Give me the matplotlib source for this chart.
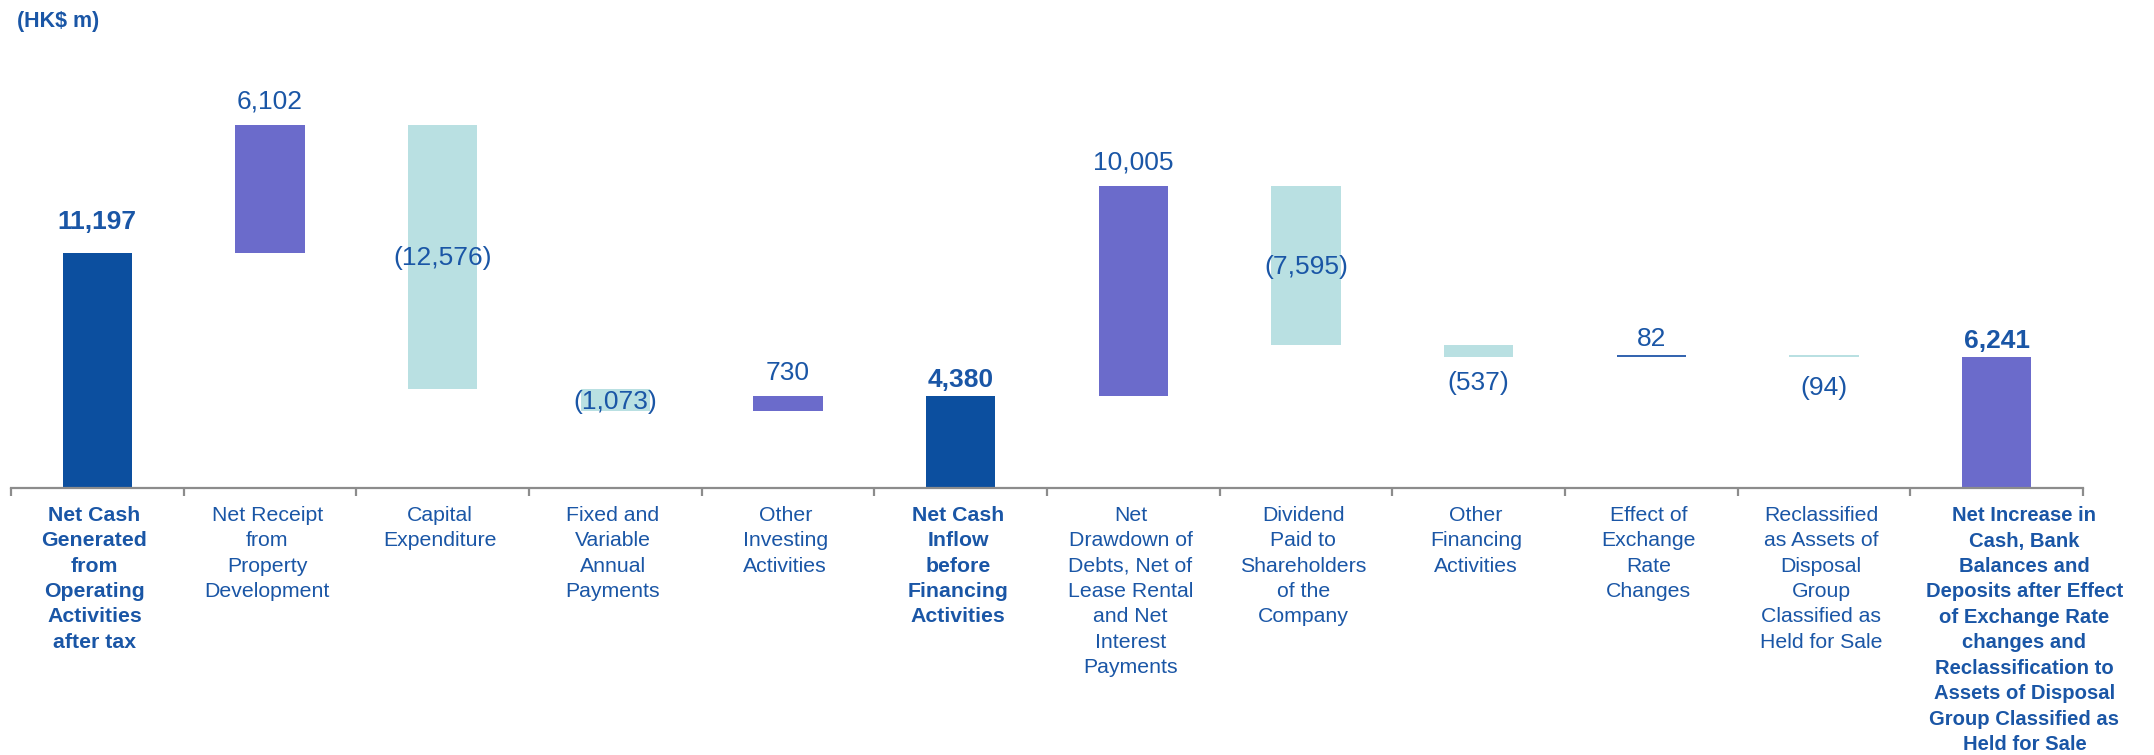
import matplotlib
matplotlib.use("Agg")
import matplotlib.pyplot as plt

plt.rcParams['font.family'] = ['Liberation Sans', 'DejaVu Sans']

categories = [
    "Net Cash\nGenerated\nfrom\nOperating\nActivities\nafter tax",
    "Net Receipt\nfrom\nProperty\nDevelopment",
    "Capital\nExpenditure",
    "Fixed and\nVariable\nAnnual\nPayments",
    "Other\nInvesting\nActivities",
    "Net Cash\nInflow\nbefore\nFinancing\nActivities",
    "Net\nDrawdown of\nDebts, Net of\nLease Rental\nand Net\nInterest\nPayments",
    "Dividend\nPaid to\nShareholders\nof the\nCompany",
    "Other\nFinancing\nActivities",
    "Effect of\nExchange\nRate\nChanges",
    "Reclassified\nas Assets of\nDisposal\nGroup\nClassified as\nHeld for Sale",
    "Net Increase in\nCash, Bank\nBalances and\nDeposits after Effect\nof Exchange Rate\nchanges and\nReclassification to\nAssets of Disposal\nGroup Classified as\nHeld for Sale",
]
values = [11197, 6102, -12576, -1073, 730, 4380, 10005, -7595, -537, 82, -94, 6241]
is_total = [True, False, False, False, False, True, False, False, False, False, False, True]
unit_label = "(HK$ m)"

# styles
DARK = '#0C4F9F'
PURPLE = '#6B6BCB'
TEAL = '#B9E0E2'
MIDBLUE = '#3565B0'
TXT = '#1A56A6'
GRAY = '#8C8C8C'
bar_colors = [DARK, PURPLE, TEAL, TEAL, PURPLE, DARK, PURPLE, TEAL, TEAL, MIDBLUE, TEAL, PURPLE]
label_place = ['above_far', 'above', 'center', 'center', 'above', 'tight', 'above', 'center',
               'below', 'tight', 'below_far', 'tight']
above_offsets = {'above': 8, 'above_far': 14, 'tight': 3}

W, H = 2154, 755
fig = plt.figure(figsize=(W / 100, H / 100), dpi=100)
px_per_unit = 235 / 11197
ax = fig.add_axes([11 / W, (H - 488) / H, 2072 / W, 468 / H])
ax.set_xlim(-0.5, len(values) - 0.5)
ax.set_ylim(0, 468 / px_per_unit)

VFS = 19
running = 0
for i, v in enumerate(values):
    if is_total[i]:
        bottom, height = 0, v
        running = v
    else:
        start = running
        end = running + v
        bottom, height = min(start, end), abs(v)
        running = end
    ax.bar(i, height, bottom=bottom, width=0.4, color=bar_colors[i], linewidth=0)
    txt = f"{v:,}" if v >= 0 else f"({-v:,})"
    weight = 'bold' if is_total[i] else 'normal'
    place = label_place[i]
    if place in above_offsets:
        ax.annotate(txt, xy=(i, bottom + height), xytext=(0, above_offsets[place]),
                    textcoords='offset points', ha='center', va='bottom',
                    fontsize=VFS, color=TXT, fontweight=weight)
    elif place == 'center':
        ax.annotate(txt, xy=(i, bottom + height / 2), xytext=(0, -1), textcoords='offset points',
                    ha='center', va='center', fontsize=VFS, color=TXT, fontweight=weight)
    else:
        off = -14 if place == 'below_far' else -10
        ax.annotate(txt, xy=(i, bottom), xytext=(0, off), textcoords='offset points',
                    ha='center', va='top', fontsize=VFS, color=TXT, fontweight=weight)

for i, c in enumerate(categories):
    last = i == len(categories) - 1
    xoff = 20 if last else -2
    ax.annotate(c, xy=(i, 0), xycoords=('data', 'axes fraction'), xytext=(xoff, -13),
                textcoords='offset points', ha='center', va='top',
                fontsize=14.6 if last else 15.3,
                color=TXT, fontweight='bold' if is_total[i] else 'normal',
                linespacing=1.42 if not last else 1.43, annotation_clip=False)

for s in ['top', 'right', 'left']:
    ax.spines[s].set_visible(False)
ax.spines['bottom'].set_color(GRAY)
ax.spines['bottom'].set_linewidth(1.6)
ax.set_yticks([])
ax.set_xticks([x - 0.5 for x in range(len(values) + 1)])
ax.set_xticklabels([])
ax.tick_params(axis='x', length=6, width=1.6, color=GRAY, direction='out')

fig.text(17 / W, 1 - 22 / H, unit_label, ha='left', va='center', fontsize=15.5,
         fontweight='bold', color=TXT)

fig.savefig('out.png', dpi=100)
